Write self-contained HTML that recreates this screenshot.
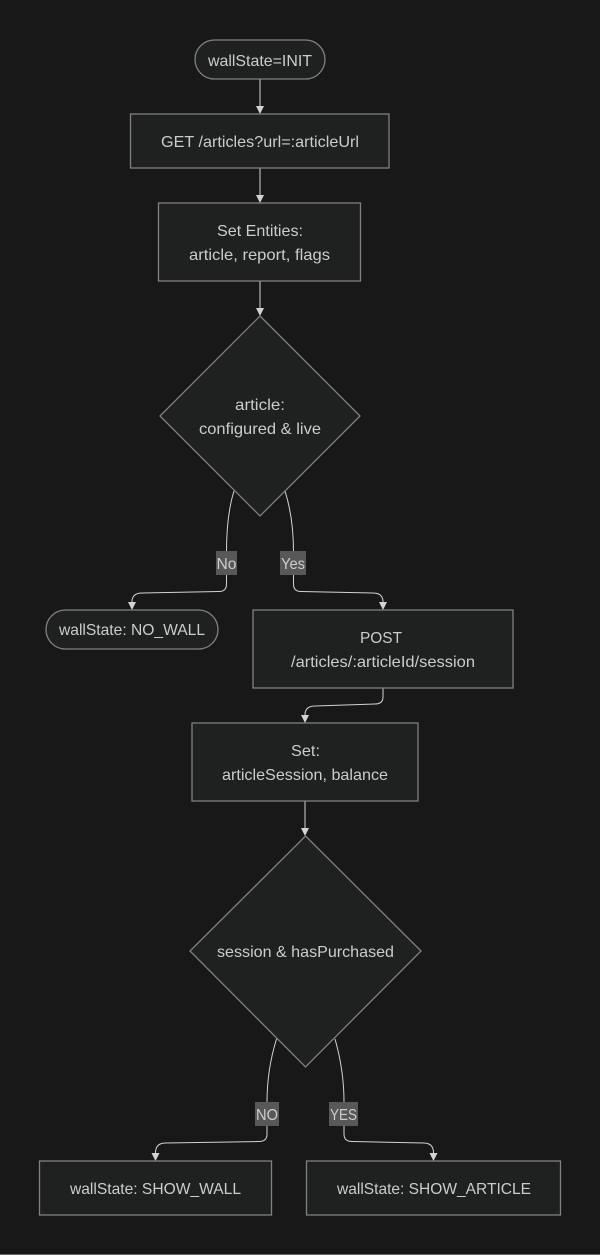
<!DOCTYPE html>
<html><head><meta charset="utf-8"><style>
html,body{margin:0;padding:0;background:#181818;width:600px;height:1255px;overflow:hidden}
svg{display:block}
text{font-family:"Liberation Sans",sans-serif;font-size:16px;fill:#ccc}
.n{fill:#1f2020;stroke:#808080;stroke-width:1.3}
.e{fill:none;stroke:#d3d3d3;stroke-width:1}
.a{fill:#d3d3d3}
.l{fill:#585858}
</style></head><body>
<svg width="600" height="1255" viewBox="0 0 600 1255" xmlns="http://www.w3.org/2000/svg">
<rect x="0" y="1254" width="600" height="1" fill="#666"/>
<path class="e" d="M260,79V106"/><path class="a" d="M256,106H264L260,114Z"/>
<path class="e" d="M260,168V195"/><path class="a" d="M256,195H264L260,203Z"/>
<path class="e" d="M260,281V308"/><path class="a" d="M256,308H264L260,316Z"/>
<path class="e" d="M234,491C228,510 226.5,530 226.5,552V584Q226.5,591.500 219,591.500L142,593Q132,593 132,602"/>
<path class="a" d="M128,602H136L132,610Z"/>
<path class="e" d="M285,491C291,510 293.500,530 293.500,552V584Q293.500,591.500 301,591.500L373,593Q383,593 383,602"/>
<path class="a" d="M379,602H387L383,610Z"/>
<path class="e" d="M383,688V697Q383,704 375,704L315,706Q305,706 305,715"/>
<path class="a" d="M301,715H309L305,723Z"/>
<path class="e" d="M305,801V828"/><path class="a" d="M301,828H309L305,836Z"/>
<path class="e" d="M276.500,1039C270,1060 267,1080 267,1102V1134Q267,1141.500 259,1141.500L165.500,1143Q155.500,1143 155.500,1153"/>
<path class="a" d="M151.500,1153H159.500L155.500,1161Z"/>
<path class="e" d="M335,1039C341,1060 344,1080 344,1102V1134Q344,1141.500 352,1141.500L423.500,1143Q433.500,1143 433.500,1153"/>
<path class="a" d="M429.500,1153H437.500L433.500,1161Z"/>

<rect class="n" x="195" y="40" width="130" height="39" rx="19.500"/>
<rect class="n" x="130.500" y="114" width="258.500" height="54"/>
<rect class="n" x="158.500" y="203" width="202" height="78"/>
<polygon class="n" points="260,316 360,416 260,516 160,416"/>
<rect class="n" x="46" y="610" width="172" height="39" rx="19.500"/>
<rect class="n" x="253" y="610" width="260" height="78"/>
<rect class="n" x="192" y="723" width="226" height="78"/>
<polygon class="n" points="305.500,836 421,951 305.500,1067 190,951"/>
<rect class="n" x="39.500" y="1161" width="232" height="54"/>
<rect class="n" x="306.500" y="1161" width="254" height="54"/>

<rect class="l" x="216" y="551" width="21" height="24"/>
<rect class="l" x="280" y="551" width="26" height="24"/>
<rect class="l" x="255" y="1102" width="24" height="24"/>
<rect class="l" x="329" y="1102" width="29" height="24"/>

<text x="208" y="66" textLength="104" lengthAdjust="spacingAndGlyphs">wallState=INIT</text>
<text x="161" y="147" textLength="198" lengthAdjust="spacingAndGlyphs">GET /articles?url=:articleUrl</text>
<text x="217" y="236" textLength="86" lengthAdjust="spacingAndGlyphs">Set Entities:</text>
<text x="189" y="260" textLength="141" lengthAdjust="spacingAndGlyphs">article, report, flags</text>
<text x="235" y="410" textLength="50" lengthAdjust="spacingAndGlyphs">article:</text>
<text x="199" y="434" textLength="122" lengthAdjust="spacingAndGlyphs">configured &amp; live</text>
<text x="59" y="635" textLength="146" lengthAdjust="spacingAndGlyphs">wallState: NO_WALL</text>
<text x="360" y="643" textLength="42" lengthAdjust="spacingAndGlyphs">POST</text>
<text x="291" y="667" textLength="184" lengthAdjust="spacingAndGlyphs">/articles/:articleId/session</text>
<text x="291" y="756" textLength="29" lengthAdjust="spacingAndGlyphs">Set:</text>
<text x="222" y="780" textLength="166" lengthAdjust="spacingAndGlyphs">articleSession, balance</text>
<text x="217" y="957" textLength="177" lengthAdjust="spacingAndGlyphs">session &amp; hasPurchased</text>
<text x="70" y="1194" textLength="171" lengthAdjust="spacingAndGlyphs">wallState: SHOW_WALL</text>
<text x="337" y="1194" textLength="194" lengthAdjust="spacingAndGlyphs">wallState: SHOW_ARTICLE</text>
<text x="216.500" y="569" textLength="20" lengthAdjust="spacingAndGlyphs">No</text>
<text x="281" y="569" textLength="24" lengthAdjust="spacingAndGlyphs">Yes</text>
<text x="256" y="1120" textLength="22" lengthAdjust="spacingAndGlyphs">NO</text>
<text x="330" y="1120" textLength="27" lengthAdjust="spacingAndGlyphs">YES</text>
</svg>
</body></html>
